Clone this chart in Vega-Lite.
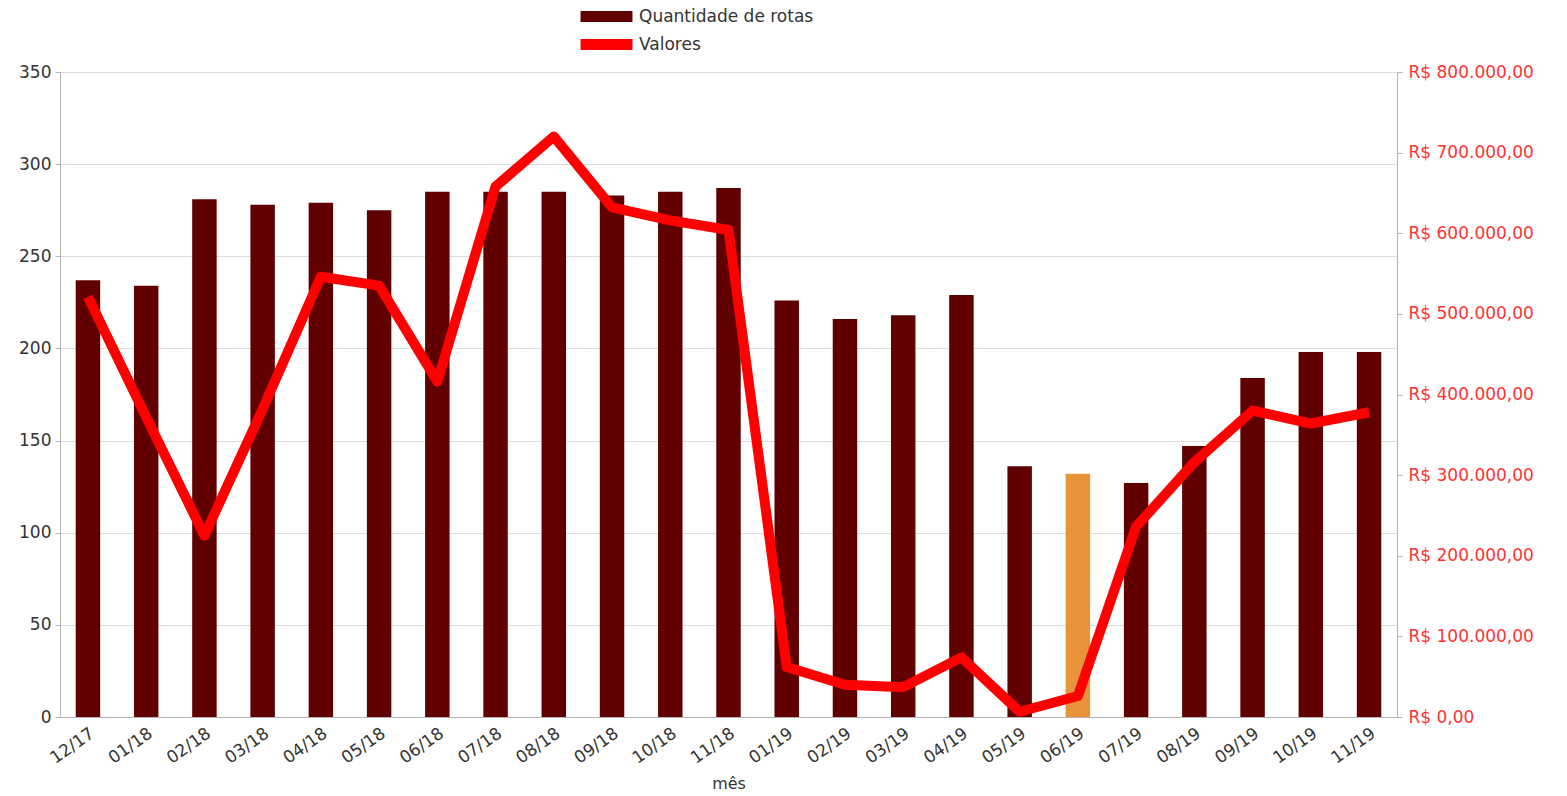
{
  "$schema": "https://vega.github.io/schema/vega-lite/v6.json",
  "autosize": {"type": "none"},
  "width": 1337,
  "height": 645,
  "padding": {"left": 60, "top": 72, "right": 170, "bottom": 79},
  "background": "white",
  "config": {
    "font": "DejaVu Sans",
    "view": {"stroke": null},
    "locale": {"number": {"decimal": ",", "thousands": ".", "grouping": [3], "currency": ["R$ ", ""]}}
  },
  "data": {
    "values": [
      {"mes": "12/17", "rotas": 237, "valor": 521000, "serie": "Quantidade de rotas"},
      {"mes": "01/18", "rotas": 234, "valor": 372000, "serie": "Quantidade de rotas"},
      {"mes": "02/18", "rotas": 281, "valor": 225000, "serie": "Quantidade de rotas"},
      {"mes": "03/18", "rotas": 278, "valor": 382000, "serie": "Quantidade de rotas"},
      {"mes": "04/18", "rotas": 279, "valor": 546000, "serie": "Quantidade de rotas"},
      {"mes": "05/18", "rotas": 275, "valor": 535000, "serie": "Quantidade de rotas"},
      {"mes": "06/18", "rotas": 285, "valor": 416000, "serie": "Quantidade de rotas"},
      {"mes": "07/18", "rotas": 285, "valor": 658000, "serie": "Quantidade de rotas"},
      {"mes": "08/18", "rotas": 285, "valor": 720000, "serie": "Quantidade de rotas"},
      {"mes": "09/18", "rotas": 283, "valor": 632000, "serie": "Quantidade de rotas"},
      {"mes": "10/18", "rotas": 285, "valor": 616000, "serie": "Quantidade de rotas"},
      {"mes": "11/18", "rotas": 287, "valor": 604000, "serie": "Quantidade de rotas"},
      {"mes": "01/19", "rotas": 226, "valor": 62000, "serie": "Quantidade de rotas"},
      {"mes": "02/19", "rotas": 216, "valor": 40000, "serie": "Quantidade de rotas"},
      {"mes": "03/19", "rotas": 218, "valor": 37000, "serie": "Quantidade de rotas"},
      {"mes": "04/19", "rotas": 229, "valor": 74000, "serie": "Quantidade de rotas"},
      {"mes": "05/19", "rotas": 136, "valor": 6500, "serie": "Quantidade de rotas"},
      {"mes": "06/19", "rotas": 132, "valor": 26000, "serie": "destaque"},
      {"mes": "07/19", "rotas": 127, "valor": 236000, "serie": "Quantidade de rotas"},
      {"mes": "08/19", "rotas": 147, "valor": 316000, "serie": "Quantidade de rotas"},
      {"mes": "09/19", "rotas": 184, "valor": 380000, "serie": "Quantidade de rotas"},
      {"mes": "10/19", "rotas": 198, "valor": 364000, "serie": "Quantidade de rotas"},
      {"mes": "11/19", "rotas": 198, "valor": 378000, "serie": "Quantidade de rotas"}
    ]
  },
  "encoding": {
    "x": {
      "field": "mes", "type": "nominal", "sort": null,
      "scale": {"paddingInner": 0.58, "paddingOuter": 0.27},
      "axis": {
        "title": "mês", "titleFontSize": 16, "titleFontWeight": "normal", "titleColor": "#333333", "titlePadding": 9,
        "labelAngle": -35, "labelFontSize": 17, "labelColor": "#333333",
        "domainColor": "#b3b3b3", "ticks": false, "labelPadding": 8
      }
    }
  },
  "layer": [
    {
      "mark": {"type": "bar"},
      "encoding": {
        "y": {
          "field": "rotas", "type": "quantitative",
          "scale": {"domain": [0, 350], "nice": false},
          "axis": {
            "title": null, "values": [0, 50, 100, 150, 200, 250, 300, 350],
            "labelFontSize": 17, "labelColor": "#333333",
            "gridColor": "#dddddd", "domainColor": "#b3b3b3", "tickColor": "#b3b3b3", "tickSize": 5, "labelPadding": 4
          }
        },
        "color": {
          "field": "serie", "type": "nominal",
          "scale": {"domain": ["Quantidade de rotas", "Valores", "destaque"], "range": ["#600000", "#ff0000", "#e8923a"]},
          "legend": {
            "title": null, "orient": "none", "legendX": 538, "legendY": -64,
            "values": ["Quantidade de rotas", "Valores"],
            "symbolType": "M-4.33,-0.9H4.33V0.9H-4.33Z", "symbolSize": 144, "symbolStrokeWidth": 0,
            "labelFontSize": 17, "labelColor": "#333333", "labelLimit": 400, "rowPadding": 10, "labelOffset": 24
          }
        }
      }
    },
    {
      "mark": {"type": "line", "strokeWidth": 10, "strokeJoin": "round"},
      "encoding": {
        "y": {
          "field": "valor", "type": "quantitative",
          "scale": {"domain": [0, 800000], "nice": false},
          "axis": {
            "title": null, "orient": "right", "grid": false, "format": "$,.2f",
            "values": [0, 100000, 200000, 300000, 400000, 500000, 600000, 700000, 800000],
            "labelFontSize": 17, "labelColor": "#ff3333",
            "domainColor": "#b3b3b3", "tickColor": "#b3b3b3", "tickSize": 5, "labelPadding": 6
          }
        },
        "color": {"datum": "Valores", "type": "nominal"}
      }
    }
  ],
  "resolve": {"scale": {"y": "independent"}}
}
